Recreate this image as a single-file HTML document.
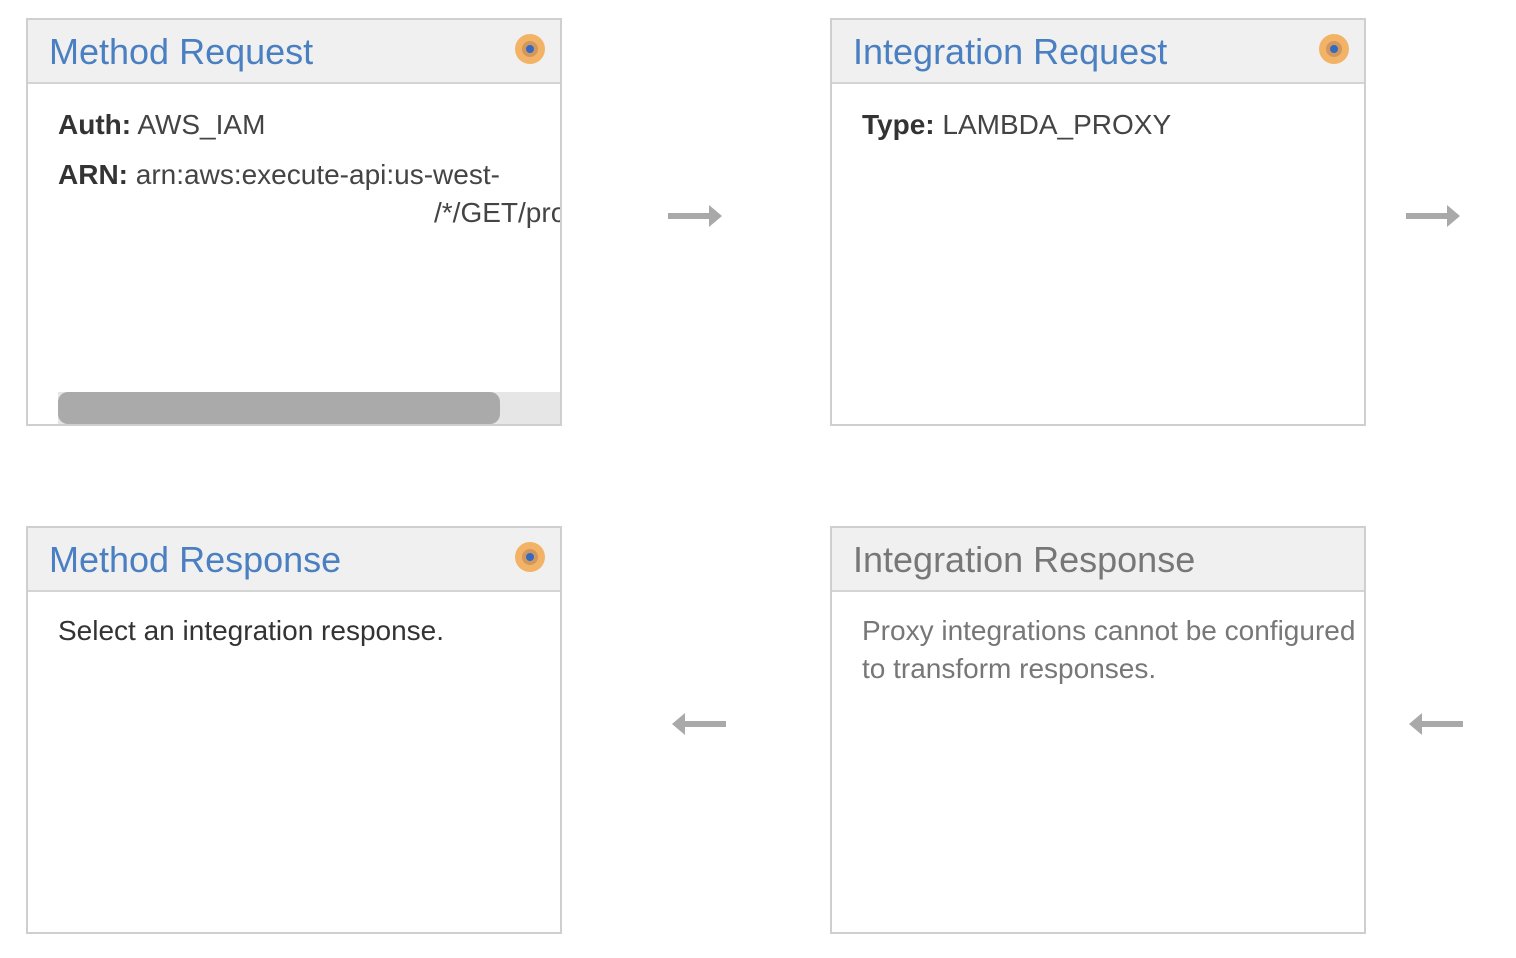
<!DOCTYPE html>
<html><head><meta charset="utf-8"><style>
body{margin:0;width:1516px;height:958px;background:#fff;position:relative;overflow:hidden;font-family:"Liberation Sans",Arial,sans-serif}
.box{position:absolute;width:532px;height:404px;border:2px solid #cfcfcf;background:#fff;overflow:hidden}
.hd{position:absolute;left:0;top:0;right:0;height:62px;background:#f0f0f0;border-bottom:2px solid #d4d4d4}
.hd span{position:absolute;left:21px;top:11px;font-size:36px;color:#4a7fc1;white-space:nowrap}
.dot{position:absolute;right:15px;top:14px;width:30px;height:30px;border-radius:50%;background:#f2b366}
.dot:before{content:"";position:absolute;left:7px;top:7px;width:16px;height:16px;border-radius:50%;background:#d09860}
.dot:after{content:"";position:absolute;left:11px;top:11px;width:8px;height:8px;border-radius:50%;background:#3569c0}
.t{position:absolute;font-size:28px;color:#444;white-space:nowrap}
.t b{color:#333}
.arr{position:absolute;width:56px;height:26px}
</style></head><body>
<div class="box" style="left:26px;top:18px">
 <div class="hd"><span>Method Request</span><div class="dot"></div></div>
 <div class="t" style="left:30px;top:89px"><b>Auth:</b> AWS_IAM</div>
 <div class="t" style="left:30px;top:139px"><b>ARN:</b> arn:aws:execute-api:us-west-</div>
 <div class="t" style="left:406px;top:177px">/*/GET/pro</div>
 <div style="position:absolute;left:30px;top:372px;width:503px;height:33px;background:#e6e6e6"></div>
 <div style="position:absolute;left:30px;top:372px;width:442px;height:32px;background:#aaa;border-radius:10px"></div>
</div>
<div class="box" style="left:830px;top:18px">
 <div class="hd"><span>Integration Request</span><div class="dot"></div></div>
 <div class="t" style="left:30px;top:89px"><b>Type:</b> LAMBDA_PROXY</div>
</div>
<div class="box" style="left:26px;top:526px">
 <div class="hd"><span>Method Response</span><div class="dot"></div></div>
 <div class="t" style="left:30px;top:87px;color:#333">Select an integration response.</div>
</div>
<div class="box" style="left:830px;top:526px">
 <div class="hd"><span style="color:#777">Integration Response</span></div>
 <div class="t" style="left:30px;top:84px;color:#777;line-height:38px">Proxy integrations cannot be configured<br>to transform responses.</div>
</div>
<svg class="arr" style="left:668px;top:203px" viewBox="0 0 56 26"><path d="M0 10h41v-8l13 11-13 11v-8H0z" fill="#a9a9a9"/></svg>
<svg class="arr" style="left:1406px;top:203px" viewBox="0 0 56 26"><path d="M0 10h41v-8l13 11-13 11v-8H0z" fill="#a9a9a9"/></svg>
<svg class="arr" style="left:670px;top:711px" viewBox="0 0 56 26"><path d="M56 10H15V2L2 13l13 11v-8h41z" fill="#a9a9a9"/></svg>
<svg class="arr" style="left:1407px;top:711px" viewBox="0 0 56 26"><path d="M56 10H15V2L2 13l13 11v-8h41z" fill="#a9a9a9"/></svg>
</body></html>
